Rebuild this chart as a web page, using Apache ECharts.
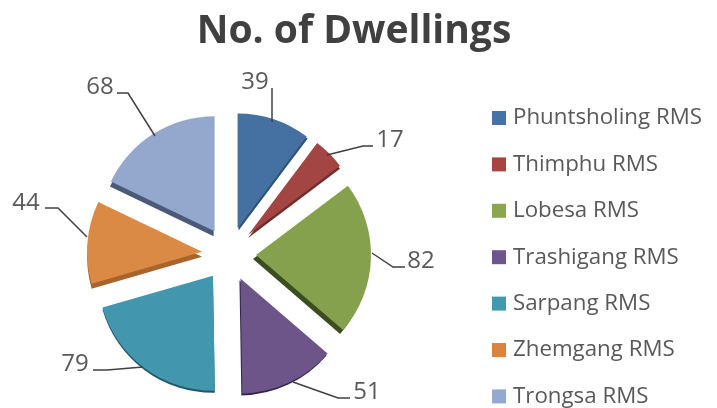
<!DOCTYPE html>
<html><head><meta charset="utf-8"><style>html,body{margin:0;background:#fff}#c{width:717px;height:408px}</style>
<script src="https://cdn.jsdelivr.net/npm/echarts@6/dist/echarts.min.js"></script></head>
<body><div id="c"></div>
<script>
const categories=['Phuntsholing RMS','Thimphu RMS','Lobesa RMS','Trashigang RMS','Sarpang RMS','Zhemgang RMS','Trongsa RMS'];
const values=[39,17,82,51,79,44,68];
const colors=['#4571a2','#a24543','#85a14e','#6e5589','#4296ae','#db8a45','#94a8cd'];
const legendColors=['#4672a8','#a84442','#8aa64e','#6f5590','#4198af','#db843d','#93a9cf'];
// darker rim under each slice, with the direction it falls in
const rimColors=['#2f5073','#6f2d2c','#3c4d20','#33264a','#20586a','#a8642a','#4a5a78'];
const rimX=[1,0,-3,-1,0,0,-1];
const rimY=[2,3,4,2,2,5,5];
// value label anchors and their leader paths, in slice order
const labelAt=[[255,82],[390,140],[421,261],[367,392],[75,364],[26,203],[100,87]];
const leaders=[
 [[272,122],[272,88]],
 [[327,155],[363,146],[373,146]],
 [[372,253],[393,267],[405,267]],
 [[293,382],[338,398],[350,398]],
 [[143,367],[107,370],[93,370]],
 [[87,237],[58,208],[45,208]],
 [[155,136],[128,93],[117,93]]
];
const callouts=values.flatMap((v,i)=>[
 {type:'polyline',z:5,shape:{points:leaders[i]},style:{fill:null,stroke:'#404040',lineWidth:1.5}},
 {type:'text',z:5,x:labelAt[i][0],y:labelAt[i][1],style:{text:String(v),font:'24px "Open Sans"',fill:'#595959',align:'center',verticalAlign:'middle'}}
]);
const chart=echarts.init(document.getElementById('c'));
chart.setOption({
 animation:false,
 title:{text:'No. of Dwellings',left:349,top:7,textAlign:'center',textStyle:{fontFamily:'Open Sans',fontWeight:'bold',fontSize:39,color:'#404040'}},
 legend:{orient:'vertical',left:492,top:107,padding:0,itemWidth:14,itemHeight:14,itemGap:24.4,icon:'rect',
  textStyle:{fontFamily:'Open Sans',fontSize:22.3,lineHeight:22,padding:[0,0,0,2],color:'#595959'},
  data:categories.map((n,i)=>({name:n,itemStyle:{color:legendColors[i]}}))},
 graphic:callouts,
 series:[{type:'pie',center:[229,254],radius:[0,115],startAngle:90,selectedMode:'multiple',selectedOffset:27,
  data:categories.map((n,i)=>({name:n,value:values[i],selected:true,
   itemStyle:{color:colors[i],shadowColor:rimColors[i],shadowBlur:0,shadowOffsetX:rimX[i],shadowOffsetY:rimY[i]}})),
  label:{show:false},labelLine:{show:false}
 }]
});
</script></body></html>
